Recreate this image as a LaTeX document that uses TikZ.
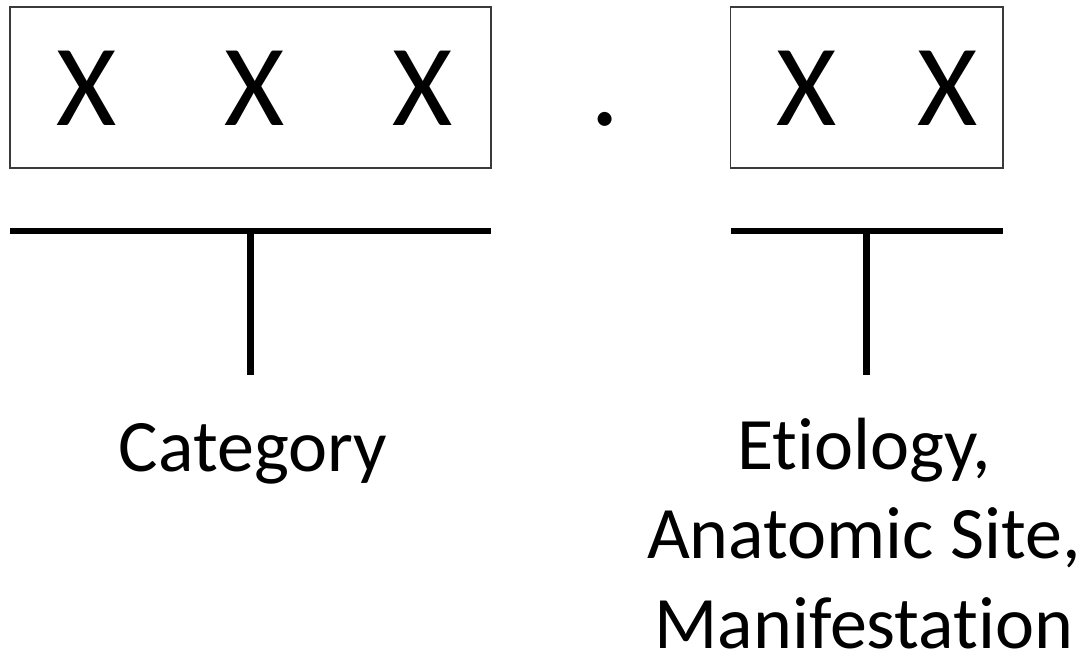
\documentclass[tikz,border=0pt]{standalone}
\usepackage{fontspec}
\setmainfont{Carlito}[Ligatures=NoCommon]
\definecolor{boxgray}{HTML}{3A3A3A}
\begin{document}
\begin{tikzpicture}[x=1pt,y=-1pt,
  codebox/.style={draw=boxgray, line width=1.3pt, inner sep=0pt, fill=none},
  bigchar/.style={inner sep=0pt, anchor=base, font=\fontsize{116}{120}\selectfont},
  lbl/.style={inner sep=0pt, anchor=base, align=center, font=\fontsize{74}{89.5}\selectfont},
  bar/.style={line width=6.5pt, line cap=butt}]
\useasboundingbox (0,0) rectangle (1088,650);
% boxes
\node[codebox, minimum width=481pt, minimum height=161pt] (box1) at (250.5,87.5) {};
\node[codebox, minimum width=272.5pt, minimum height=161pt] (box2) at (866.75,87.5) {};
% characters
\node[bigchar] (x1) at (86.6,126) {X};
\node[bigchar] (x2) at (254.4,126) {X};
\node[bigchar] (x3) at (422.3,126) {X};
\node[bigchar] (dot) at (605,126) {.};
\node[bigchar] (x4) at (806.5,126) {X};
\node[bigchar] (x5) at (947.7,126) {X};
% bars
\coordinate (b1l) at (10,231);
\coordinate (b1r) at (491,231);
\coordinate (b1m) at (250.5,231);
\coordinate (b1b) at (250.5,375);
\coordinate (b2l) at (730.5,231);
\coordinate (b2r) at (1003,231);
\coordinate (b2m) at (866.5,231);
\coordinate (b2b) at (866.5,375);
\draw[bar] (b1l) -- (b1r);
\draw[bar] (b1m) -- (b1b);
\draw[bar] (b2l) -- (b2r);
\draw[bar] (b2m) -- (b2b);
% labels
\node[lbl] (cat) at (253,471) {Category};
\node[lbl] (etio) at (864,648) {Etiology,\\Anatomic Site,\\Manifestation};
\end{tikzpicture}
\end{document}
